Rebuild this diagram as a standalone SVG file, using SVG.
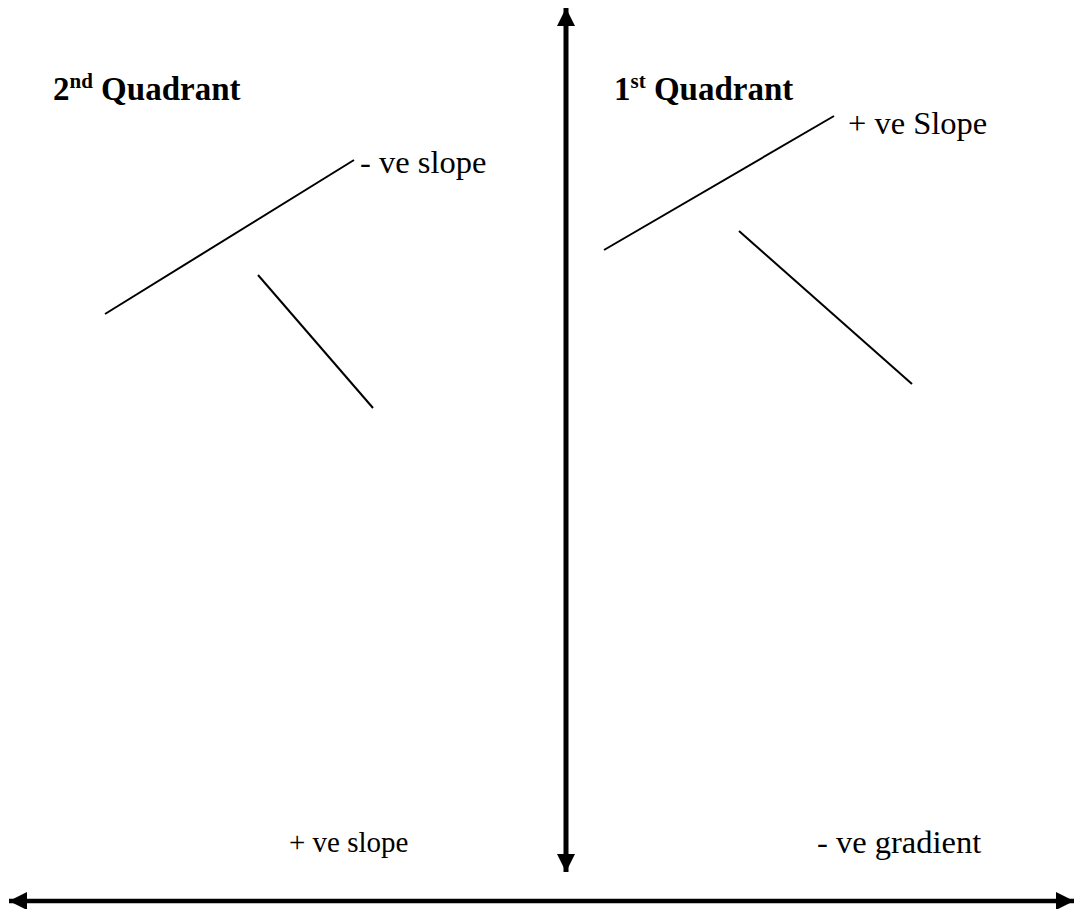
<svg xmlns="http://www.w3.org/2000/svg" width="1076" height="909" viewBox="0 0 1076 909">
<style>
text{font-family:'Liberation Serif','Times New Roman',Times,'DejaVu Serif',serif;font-size:32.5px;fill:#000}
.b{font-weight:bold;font-size:33px}
.sm{font-size:29px}
.ln{stroke:#000;stroke-width:2;fill:none}
.ax{stroke:#000;fill:none}
</style>
<defs>
<marker id="ah" viewBox="0 0 10 10" refX="10" refY="5" markerWidth="4" markerHeight="4" orient="auto-start-reverse" markerUnits="strokeWidth">
<path d="M0,0 L10,5 L0,10 z" fill="#000"/>
</marker>
<marker id="ah2" viewBox="0 0 10 10" refX="10" refY="5" markerWidth="3.6" markerHeight="3.6" orient="auto-start-reverse" markerUnits="strokeWidth">
<path d="M0,0 L10,5 L0,10 z" fill="#000"/>
</marker>
</defs>
<rect width="1076" height="909" fill="#fff"/>
<g id="connectors">
<line id="y-axis" class="ax" x1="566" y1="8" x2="566" y2="872" stroke-width="5" marker-start="url(#ah2)" marker-end="url(#ah2)"/>
<line id="x-axis" class="ax" x1="9" y1="901" x2="1074" y2="901" stroke-width="4.5" marker-start="url(#ah)" marker-end="url(#ah)"/>
<line class="ln" x1="105" y1="314" x2="354" y2="160"/>
<line class="ln" x1="258" y1="275" x2="373" y2="408"/>
<line class="ln" x1="604" y1="250" x2="834" y2="116"/>
<line class="ln" x1="739" y1="231" x2="912" y2="384"/>
</g>
<g id="q2-label"><text class="b" x="53" y="100">2<tspan font-size="21" dy="-12">nd</tspan><tspan dy="12"> Quadrant</tspan></text></g>
<g id="q1-label"><text class="b" x="614" y="100">1<tspan font-size="21" dy="-12">st</tspan><tspan dy="12"> Quadrant</tspan></text></g>
<g id="pos-slope-q1"><text x="848" y="134">+ ve Slope</text></g>
<g id="neg-slope-q2"><text x="360" y="173">- ve slope</text></g>
<g id="pos-slope-bottom"><text class="sm" x="289" y="852">+ ve slope</text></g>
<g id="neg-gradient"><text x="817" y="853">- ve gradient</text></g>
</svg>
